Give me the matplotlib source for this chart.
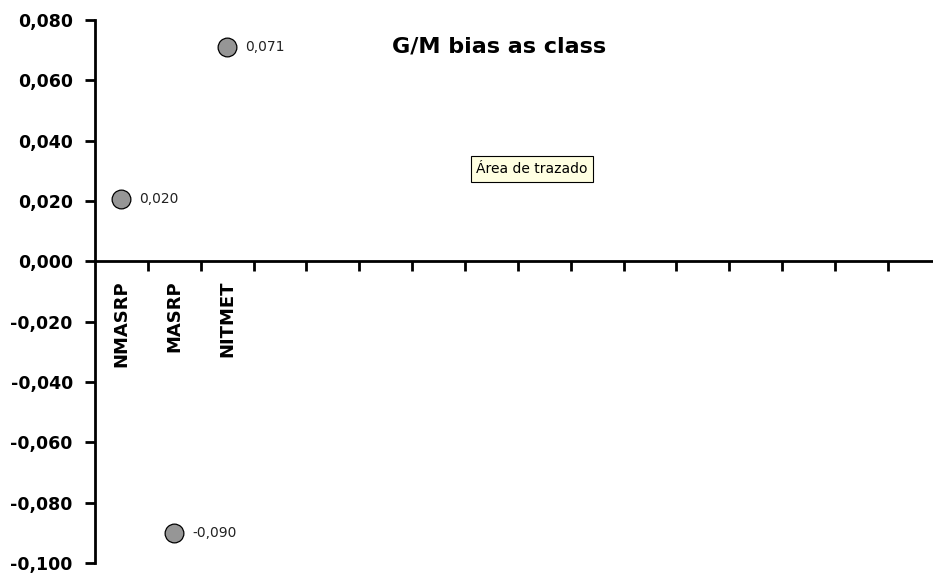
import matplotlib
matplotlib.use('Agg')
import matplotlib.pyplot as plt

# Chart data
categories = ['NMASRP', 'MASRP', 'NITMET']
bias = [0.0205, -0.090, 0.071]
bias_labels = ['0,020', '-0,090', '0,071']
n_slots = 16
y_ticks = [-0.100, -0.080, -0.060, -0.040, -0.020, 0.000, 0.020, 0.040, 0.060, 0.080]
y_tick_labels = ['-0,100', '-0,080', '-0,060', '-0,040', '-0,020',
                 '0,000', '0,020', '0,040', '0,060', '0,080']

plt.rcParams['font.family'] = ['DejaVu Sans']

fig = plt.figure(figsize=(9.33, 5.76), dpi=100)
ax = fig.add_axes([95 / 933, 13 / 576, 1 - 95 / 933, 543 / 576])

# spines first: moving a spine resets the tick label styling
ax.spines['top'].set_visible(False)
ax.spines['right'].set_visible(False)
ax.spines['bottom'].set_position(('data', 0))
ax.spines['left'].set_linewidth(2)
ax.spines['bottom'].set_linewidth(2)

x = list(range(1, len(categories) + 1))
ax.plot(x, bias, linestyle='none', marker='o', markersize=13.5,
        markerfacecolor='#969696', markeredgecolor='black', markeredgewidth=0.9,
        zorder=3, clip_on=False)

for xi, yi, lab in zip(x, bias, bias_labels):
    ax.annotate(lab, (xi, yi), xytext=(18, 0), textcoords='offset pixels',
                ha='left', va='center', fontsize=10, color='#222222')

# Axes setup
ax.set_ylim(-0.100, 0.080)
ax.set_xlim(0.5, 0.5 + 838 / 52.86)
ax.set_yticks(y_ticks)
ax.set_yticklabels(y_tick_labels, fontsize=12.5, fontweight='bold')

ax.set_xticks(x)
ax.set_xticklabels(categories, rotation=90, fontsize=13, fontweight='bold')
ax.set_xticks([i + 0.5 for i in range(1, n_slots)], minor=True)

ax.tick_params(axis='y', direction='out', length=7, width=2, pad=9)
ax.tick_params(axis='x', which='major', length=0, pad=14)
ax.tick_params(axis='x', which='minor', direction='out', length=7, width=2)

# Title and the tooltip box
fig.text(499 / 933, 1 - 47 / 576, 'G/M bias as class', ha='center', va='center',
         fontsize=16, fontweight='bold')
fig.text(532 / 933, 1 - 169 / 576, 'Área de trazado', ha='center', va='center',
         fontsize=10, color='black',
         bbox=dict(boxstyle='square,pad=0.4', facecolor='#FFFFE1',
                   edgecolor='black', linewidth=0.8))

fig.savefig('out.png', dpi=100)
